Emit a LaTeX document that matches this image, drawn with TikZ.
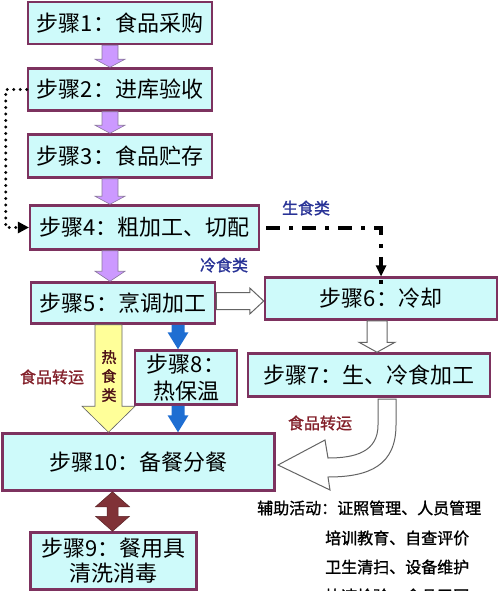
\documentclass[tikz,border=0pt]{standalone}
\usepackage{fontspec}
\setmainfont{Noto Sans CJK SC}
\newfontfamily\semib[FakeBold=1.2]{Noto Sans CJK SC}
\usetikzlibrary{arrows.meta,calc}
\definecolor{boxfill}{RGB}{206,250,250}
\definecolor{boxline}{RGB}{125,50,95}
\definecolor{purpfill}{RGB}{204,153,255}
\definecolor{purpline}{RGB}{140,120,160}
\definecolor{blufill}{RGB}{30,110,210}
\definecolor{yelfill}{RGB}{255,255,153}
\definecolor{brnfill}{RGB}{128,50,55}
\definecolor{lblred}{RGB}{130,30,40}
\definecolor{lblblue}{RGB}{40,50,150}
\definecolor{greyline}{RGB}{100,100,100}
% block arrow down: style, from, to, xc, shaft half, head half, head length
\newcommand\blockdown[7]{\path[#1] let \p1=(#2.south), \p2=(#3.north) in
 ({#4pt-#5pt},\y1) -- ({#4pt+#5pt},\y1) -- ({#4pt+#5pt},\y2+#7pt) -- ({#4pt+#6pt},\y2+#7pt) -- ({#4pt},\y2) -- ({#4pt-#6pt},\y2+#7pt) -- ({#4pt-#5pt},\y2+#7pt) -- cycle;}
% double block arrow vertical
\newcommand\blockupdown[7]{\path[#1] let \p1=(#2.south), \p2=(#3.north) in
 ({#4pt},\y1) -- ({#4pt+#6pt},\y1-#7pt) -- ({#4pt+#5pt},\y1-#7pt) -- ({#4pt+#5pt},\y2+#7pt) -- ({#4pt+#6pt},\y2+#7pt) -- ({#4pt},\y2) -- ({#4pt-#6pt},\y2+#7pt) -- ({#4pt-#5pt},\y2+#7pt) -- ({#4pt-#5pt},\y1-#7pt) -- ({#4pt-#6pt},\y1-#7pt) -- cycle;}
% block arrow right: style, from, to, yc (pixel), shaft half, head half, head length
\newcommand\blockright[7]{\path[#1] let \p1=(#2.east), \p2=(#3.west) in
 (\x1,{-#4pt+#5pt}) -- (\x2-#7pt,{-#4pt+#5pt}) -- (\x2-#7pt,{-#4pt+#6pt}) -- (\x2,{-#4pt}) -- (\x2-#7pt,{-#4pt-#6pt}) -- (\x2-#7pt,{-#4pt-#5pt}) -- (\x1,{-#4pt-#5pt}) -- cycle;}
\tikzset{
  stepbox/.style={draw=boxline, line width=2.5pt, fill=boxfill, inner sep=0pt,
    font=\fontsize{22}{27}\selectfont, align=center},
  purparrow/.style={fill=purpfill, draw=purpline, line width=0.6pt},
  bluarrow/.style={fill=blufill},
  yelarrow/.style={fill=yelfill, draw=greyline, line width=0.6pt},
  whtarrow/.style={fill=white, draw=greyline, line width=1pt},
  brnarrow/.style={fill=brnfill, draw=brnfill!70!black, line width=0.5pt},
  lbl/.style={font=\fontsize{16}{19}\semib, inner sep=0pt},
  suptext/.style={font=\fontsize{16}{19}\semib, inner sep=0pt, anchor=west},
  dotline/.style={line width=3.2pt, line cap=round, dash pattern=on 0pt off 6.5pt},
  dashdotline/.style={line width=4pt, dash pattern=on 14pt off 9pt on 4pt off 9pt}
}
\begin{document}
\begin{tikzpicture}[x=1pt,y=-1pt]
\useasboundingbox (0,0) rectangle (500,591);
\clip (0,0) rectangle (500,591);
% boxes
\node[stepbox, minimum width=184pt, minimum height=42pt] (b1) at (120,23) {步骤1：食品采购};
\node[stepbox, minimum width=184pt, minimum height=42pt] (b2) at (120,89.5) {步骤2：进库验收};
\node[stepbox, minimum width=184pt, minimum height=43pt] (b3) at (120,156) {步骤3：食品贮存};
\node[stepbox, minimum width=229pt, minimum height=44pt] (b4) at (144.5,227.5) {步骤4：粗加工、切配};
\node[stepbox, minimum width=184pt, minimum height=41pt] (b5) at (123,303) {步骤5：烹调加工};
\node[stepbox, minimum width=232pt, minimum height=42pt] (b6) at (381,298.5) {步骤6：冷却};
\node[stepbox, minimum width=242pt, minimum height=43pt] (b7) at (369,375) {步骤7：生、冷食加工};
\node[stepbox, minimum width=102pt, minimum height=54pt, font=\fontsize{22}{27}\selectfont] (b8) at (186,377.5) {步骤8：\\热保温};
\node[stepbox, minimum width=272pt, minimum height=57pt] (b10) at (138.5,462) {步骤10：备餐分餐};
\node[stepbox, minimum width=166pt, minimum height=57pt, font=\fontsize{22}{25}\selectfont] (b9) at (113.5,561) {步骤9：餐用具\\清洗消毒};
% purple arrows
\blockdown{purparrow}{b1}{b2}{110}{8}{15}{8}
\blockdown{purparrow}{b2}{b3}{110}{8}{15}{8}
\blockdown{purparrow}{b3}{b4}{110}{8}{15}{8}
\blockdown{purparrow}{b4}{b5}{110}{8}{15}{10}
% blue arrows
\blockdown{bluarrow}{b5}{b8}{178}{6.5}{10.5}{17}
\blockdown{bluarrow}{b8}{b10}{178}{6.5}{10.5}{17}
% yellow arrow
\blockdown{yelarrow}{b5}{b10}{108.5}{13.5}{26.5}{26}
\node[font=\fontsize{15}{19}\semib, text=lblred!60!black, align=center, inner sep=0pt] (hot) at (109,376) {热\\食\\类};
% white arrows
\blockright{whtarrow}{b5}{b6}{301}{8.5}{13}{14}
\blockdown{whtarrow}{b6}{b7}{377}{10}{18}{10}
\path[whtarrow] (378,399) -- (378,425) .. controls (378,452) and (355,458) .. (328,458)
  -- (325,440) -- (278,465) -- (330,490) -- (328,477)
  .. controls (370,477) and (396,465) .. (396,425) -- (396,399) -- cycle;
% brown double arrow
\blockupdown{brnarrow}{b10}{b9}{112.5}{5.5}{17}{15}
% dotted connector 2 -> 4
\draw[dotline] (b2.west) -- ++(-21,0) coordinate (dcorner) |- ([xshift=-10pt]b4.west);
\fill (b4.west) -- ++(-11,-6) -- ++(0,12) -- cycle;
% dash-dot connector 4 -> 6
\coordinate (dstart) at ([xshift=6pt]b4.east);
\coordinate (dturn) at (b6.north |- dstart);
\draw[dashdotline] (dstart) -- (dturn) -- ([yshift=-10pt]b6.north);
\fill (b6.north) -- ++(-5.5,-11) -- ++(11,0) -- cycle;
% labels
\node[lbl, text=lblblue] (lraw) at (306,208) {生食类};
\node[lbl, text=lblblue] (lcold) at (224,265) {冷食类};
\node[lbl, text=lblred] (ltr1) at (52,377) {食品转运};
\node[lbl, text=lblred] (ltr2) at (320,423) {食品转运};
% support activities
\node[suptext] (s1) at (257,508) {辅助活动：证照管理、人员管理};
\node[suptext] (s2) at (325,538) {培训教育、自查评价};
\node[suptext] (s3) at (325,567) {卫生清扫、设备维护};
\node[suptext] (s4) at (325,596) {快速检验、食品召回};
\end{tikzpicture}
\end{document}
